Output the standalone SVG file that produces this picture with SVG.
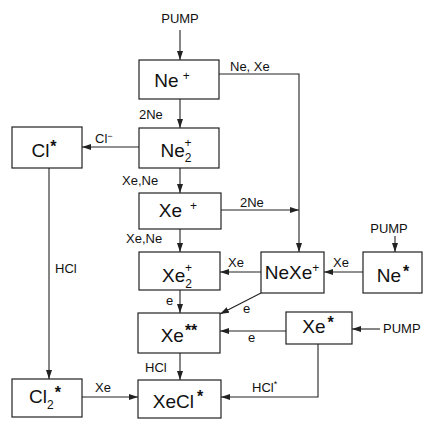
<svg xmlns="http://www.w3.org/2000/svg" width="435" height="421" viewBox="0 0 435 421">
<style>
.box{fill:#fff;stroke:#222;stroke-width:1.2}
.ln{fill:none;stroke:#222;stroke-width:1.1}
.nt{font-family:"Liberation Sans",Arial,sans-serif;font-size:19px;fill:#111}
.lb{font-family:"Liberation Sans",Arial,sans-serif;font-size:13px;fill:#111}
.sup{font-size:12px}
.st{font-size:16px;font-weight:bold}
</style>
<defs>
<marker id="ah" markerWidth="9" markerHeight="6" refX="9" refY="3" orient="auto" markerUnits="userSpaceOnUse">
<path d="M0,0 L9,3 L0,6 Z" fill="#222"/>
</marker>
</defs>
<rect width="435" height="421" fill="#fff"/>
<g id="connectors">
<line class="ln" x1="180" y1="30" x2="180" y2="60" marker-end="url(#ah)"/>
<line class="ln" x1="180" y1="99" x2="180" y2="128" marker-end="url(#ah)"/>
<line class="ln" x1="180" y1="168" x2="180" y2="193" marker-end="url(#ah)"/>
<line class="ln" x1="180" y1="229" x2="180" y2="252" marker-end="url(#ah)"/>
<line class="ln" x1="180" y1="290" x2="180" y2="313" marker-end="url(#ah)"/>
<line class="ln" x1="180" y1="353" x2="180" y2="380" marker-end="url(#ah)"/>
<polyline class="ln" points="219,74 299,74 299,252" marker-end="url(#ah)"/>
<line class="ln" x1="221" y1="210" x2="299" y2="210" marker-end="url(#ah)"/>
<line class="ln" x1="139" y1="147" x2="82" y2="147" marker-end="url(#ah)"/>
<line class="ln" x1="49" y1="168" x2="49" y2="379" marker-end="url(#ah)"/>
<line class="ln" x1="82" y1="397" x2="138" y2="397" marker-end="url(#ah)"/>
<line class="ln" x1="395" y1="236" x2="395" y2="252" marker-end="url(#ah)"/>
<line class="ln" x1="363" y1="272" x2="324" y2="272" marker-end="url(#ah)"/>
<line class="ln" x1="261" y1="272" x2="220" y2="272" marker-end="url(#ah)"/>
<line class="ln" x1="261" y1="293" x2="220" y2="314" marker-end="url(#ah)"/>
<line class="ln" x1="286" y1="331" x2="220" y2="331" marker-end="url(#ah)"/>
<line class="ln" x1="380" y1="329" x2="352" y2="329" marker-end="url(#ah)"/>
<polyline class="ln" points="318,344 318,397 221,397" marker-end="url(#ah)"/>
</g>
<g id="n-ne-plus"><rect class="box" x="139" y="60" width="80" height="39"/><text class="nt" x="172" y="87" text-anchor="middle">Ne<tspan class="sup" dx="4" dy="-7">+</tspan></text></g>
<g id="n-ne2-plus"><rect class="box" x="139" y="128" width="80" height="40"/><text class="nt" x="176" y="157" text-anchor="middle">Ne<tspan class="sup" dy="5">2</tspan><tspan class="sup" dx="-7" dy="-15">+</tspan></text></g>
<g id="n-cl-star"><rect class="box" x="12" y="127" width="70" height="41"/><text class="nt" x="44" y="157" text-anchor="middle">Cl<tspan class="st" dx="1" dy="-5">*</tspan></text></g>
<g id="n-xe-plus"><rect class="box" x="139" y="193" width="82" height="36"/><text class="nt" x="178" y="217" text-anchor="middle">Xe<tspan class="sup" dx="8" dy="-7">+</tspan></text></g>
<g id="n-xe2-plus"><rect class="box" x="139" y="252" width="81" height="38"/><text class="nt" x="177" y="282" text-anchor="middle">Xe<tspan class="sup" dy="6">2</tspan><tspan class="sup" dx="-7" dy="-16">+</tspan></text></g>
<g id="n-nexe-plus"><rect class="box" x="261" y="252" width="63" height="41"/><text class="nt" x="292" y="279" text-anchor="middle">NeXe<tspan class="sup" dy="-7">+</tspan></text></g>
<g id="n-ne-star"><rect class="box" x="363" y="252" width="59" height="41"/><text class="nt" x="393" y="282" text-anchor="middle">Ne<tspan class="st" dx="2" dy="-5">*</tspan></text></g>
<g id="n-xe-2star"><rect class="box" x="138" y="313" width="82" height="40"/><text class="nt" x="179" y="342" text-anchor="middle">Xe<tspan class="st" dx="1" dy="-6">**</tspan></text></g>
<g id="n-xe-star"><rect class="box" x="286" y="312" width="66" height="32"/><text class="nt" x="318" y="333" text-anchor="middle">Xe<tspan class="st" dx="2" dy="-5">*</tspan></text></g>
<g id="n-cl2-star"><rect class="box" x="12" y="379" width="70" height="38"/><text class="nt" x="45" y="403" text-anchor="middle">Cl<tspan class="sup" dy="6">2</tspan><tspan class="st" dx="1" dy="-11">*</tspan></text></g>
<g id="n-xecl-star"><rect class="box" x="138" y="380" width="83" height="38"/><text class="nt" x="178" y="408" text-anchor="middle">XeCl<tspan class="st" dx="3" dy="-6">*</tspan></text></g>
<g id="labels">
<text class="lb" x="180" y="23" text-anchor="middle">PUMP</text>
<text class="lb" x="230" y="71">Ne, Xe</text>
<text class="lb" x="139" y="119">2Ne</text>
<text class="lb" x="95" y="143">Cl<tspan font-size="9" dy="-4">−</tspan></text>
<text class="lb" x="122" y="185">Xe,Ne</text>
<text class="lb" x="126" y="243">Xe,Ne</text>
<text class="lb" x="55" y="273">HCl</text>
<text class="lb" x="240" y="207">2Ne</text>
<text class="lb" x="389" y="233" text-anchor="middle">PUMP</text>
<text class="lb" x="228" y="267">Xe</text>
<text class="lb" x="333" y="267">Xe</text>
<text class="lb" x="243" y="313">e</text>
<text class="lb" x="166" y="305">e</text>
<text class="lb" x="248" y="342">e</text>
<text class="lb" x="383" y="333">PUMP</text>
<text class="lb" x="145" y="372">HCl</text>
<text class="lb" x="252" y="392">HCl<tspan font-size="9" dy="-5">*</tspan></text>
<text class="lb" x="95" y="392">Xe</text>
</g>
</svg>
